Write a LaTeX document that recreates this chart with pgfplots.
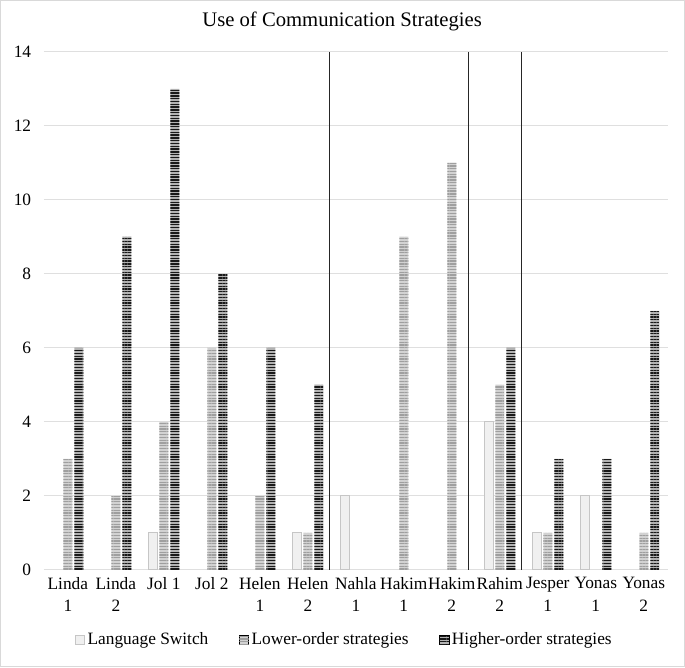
\documentclass[border=0pt]{standalone}
\usepackage{pgfplots}
\pgfplotsset{compat=1.18}
\usepackage{fontspec}
\setmainfont{Liberation Serif}
\usetikzlibrary{patterns.meta}

\tikzset{
  lswitch/.style={fill=gray!12, draw=gray!45, line width=0.6pt},
  lower/.style={fill=gray!35, draw=none,
    postaction={pattern={Lines[angle=0,distance=2.1pt,line width=1pt]}, pattern color=gray!75}},
  higher/.style={fill=gray!60, draw=none,
    postaction={pattern={Lines[angle=0,distance=2.1pt,line width=1pt]}, pattern color=black!90}},
}

\begin{document}
\begin{tikzpicture}
\draw[gray!30, line width=0.8pt] (-32.5pt,-72.5pt) rectangle (480.5pt,427pt);
\begin{axis}[
    at={(0,0)}, anchor=south west,
    scale only axis,
    width=468pt, height=388.5pt,
    xmin=-0.5, xmax=12.5,
    ymin=0, ymax=14,
    ytick={0,2,...,14},
    xtick={0,...,12},
    xticklabels={{Linda\\1},{Linda\\2},{Jol 1},{Jol 2},{Helen\\1},{Helen\\2},{Nahla\\1},{Hakim\\1},{Hakim\\2},{Rahim\\2},{Jesper\\1},{Yonas\\1},{Yonas\\2}},
    xticklabel style={align=center, font=\fontsize{13}{17}\selectfont, anchor=north, yshift=-2pt},
    yticklabel style={font=\fontsize{13}{16}\selectfont, xshift=-6pt},
    /pgf/number format/assume math mode=true,
    major tick length=0pt,
    axis line style={draw=none},
    ymajorgrids=true,
    grid style={gray!25, line width=0.8pt},
    every axis title shift=0pt,
    title={Use of Communication Strategies},
    title style={font=\fontsize{15.5}{18}\selectfont, at={(axis description cs:0.478,1.058)}, anchor=center},
    legend columns=3,
    legend style={draw=none, fill=none, font=\fontsize{13}{16}\selectfont,
      at={(0.482,-0.135)}, anchor=center,
      /tikz/every even column/.append style={column sep=21pt}},
    legend image code/.code={\draw[#1] (0pt,-3.5pt) rectangle (7pt,3.5pt);},
]
\addplot[ybar, bar width=6.75pt, bar shift=-8.25pt, lswitch] coordinates {
  (2,1)(5,1)(6,2)(9,4)(10,1)(11,2)};
\addlegendentry{Language Switch}
\addplot[ybar, bar width=6.75pt, bar shift=0pt, lower] coordinates {
  (0,3)(1,2)(2,4)(3,6)(4,2)(5,1)(7,9)(8,11)(9,5)(10,1)(12,1)};
\addlegendentry{Lower-order strategies}
\addplot[ybar, bar width=6.75pt, bar shift=8.25pt, higher] coordinates {
  (0,6)(1,9)(2,13)(3,8)(4,6)(5,5)(9,6)(10,3)(11,3)(12,7)};
\addlegendentry{Higher-order strategies}
% separator lines
\addplot[forget plot, black!85, line width=1pt] coordinates {(5.458,0)(5.458,14)};
\addplot[forget plot, black!85, line width=1pt] coordinates {(8.354,0)(8.354,14)};
\addplot[forget plot, black!85, line width=1pt] coordinates {(9.458,0)(9.458,14)};
\end{axis}
\end{tikzpicture}
\end{document}
